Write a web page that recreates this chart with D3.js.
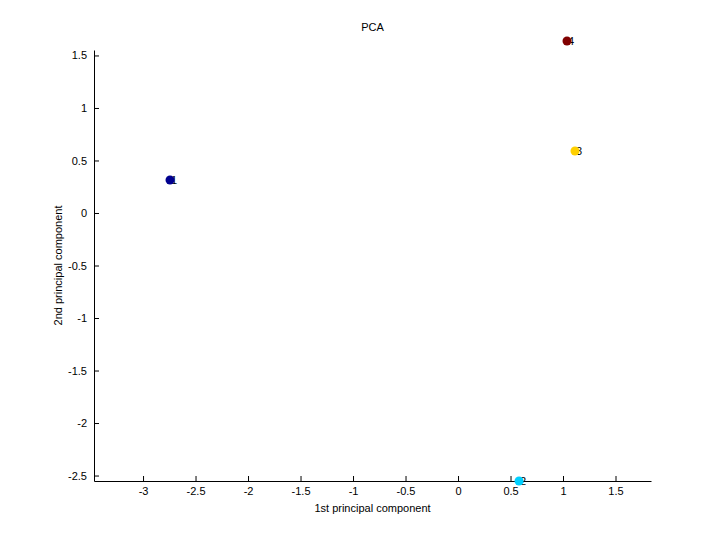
<!DOCTYPE html>
<html>
<head>
<meta charset="utf-8">
<script src="https://cdn.jsdelivr.net/npm/d3@7"></script>
<style>
  body { margin: 0; background: #fff; }
  text { font-family: "Liberation Sans", Arial, sans-serif; }
</style>
</head>
<body>
<div class="chart"></div>
<script>
// PCA scores, one point per sample
var labels = ["1", "2", "3", "4"];
var pc1 = [-2.743, 0.581, 1.114, 1.038];
var pc2 = [0.314, -2.552, 0.590, 1.638];
var colors = ["#00008f", "#00d0ff", "#ffd000", "#800000"];
var xTicks = [-3, -2.5, -2, -1.5, -1, -0.5, 0, 0.5, 1, 1.5];
var yTicks = [-2.5, -2, -1.5, -1, -0.5, 0, 0.5, 1, 1.5];

var W = 720, H = 540;
var margin = { top: 50, right: 69, bottom: 59, left: 94 },
  width = W - margin.left - margin.right,
  height = H - margin.top - margin.bottom;

// plain hyphen for negatives, like the original
var fmt = function (d) { return String(d); };

var svg = d3.select('.chart').append('svg')
  .attr('width', W)
  .attr('height', H);

var g = svg.append('g')
  .attr('transform', 'translate(' + margin.left + ',' + margin.top + ')');

var x = d3.scaleLinear()
  .domain([-3.467, 1.838])
  .range([0, width]);

var y = d3.scaleLinear()
  .domain([-2.552, 1.552])
  .range([height, 0]);

var xAxis = d3.axisBottom(x)
  .tickValues(xTicks)
  .tickFormat(fmt)
  .tickSizeInner(-5)
  .tickSizeOuter(0)
  .tickPadding(6);

var yAxis = d3.axisLeft(y)
  .tickValues(yTicks)
  .tickFormat(fmt)
  .tickSizeInner(-5)
  .tickSizeOuter(0)
  .tickPadding(7);

var gx = g.append('g')
  .attr('transform', 'translate(0,' + height + ')')
  .call(xAxis);

var gy = g.append('g')
  .call(yAxis);

[gx, gy].forEach(function (a) {
  a.selectAll('path').attr('stroke', '#000').attr('stroke-width', 1);
  a.selectAll('line').attr('stroke', '#000');
  a.selectAll('text')
    .attr('fill', '#000')
    .style('font-size', '11px')
    .style('font-family', '"Liberation Sans", Arial, sans-serif');
});

// point labels go under the markers
g.selectAll('.lbl')
  .data(labels)
  .enter().append('text')
  .attr('class', 'lbl')
  .attr('x', function (d, i) { return x(pc1[i]) + 1; })
  .attr('y', function (d, i) { return y(pc2[i]); })
  .attr('dy', '0.35em')
  .style('font-size', '11px')
  .attr('fill', '#000')
  .text(function (d) { return d; });

g.selectAll('.dot')
  .data(labels)
  .enter().append('circle')
  .attr('class', 'dot')
  .attr('cx', function (d, i) { return x(pc1[i]); })
  .attr('cy', function (d, i) { return y(pc2[i]); })
  .attr('r', 4.5)
  .attr('fill', function (d, i) { return colors[i]; });

// title and axis labels
svg.append('text')
  .attr('x', margin.left + width / 2)
  .attr('y', 31)
  .attr('text-anchor', 'middle')
  .style('font-size', '11px')
  .text('PCA');

svg.append('text')
  .attr('x', margin.left + width / 2)
  .attr('y', 512)
  .attr('text-anchor', 'middle')
  .style('font-size', '11px')
  .text('1st principal component');

svg.append('text')
  .attr('transform', 'translate(62,' + (margin.top + height / 2) + ')rotate(-90)')
  .attr('text-anchor', 'middle')
  .style('font-size', '11px')
  .text('2nd principal component');
</script>
</body>
</html>
